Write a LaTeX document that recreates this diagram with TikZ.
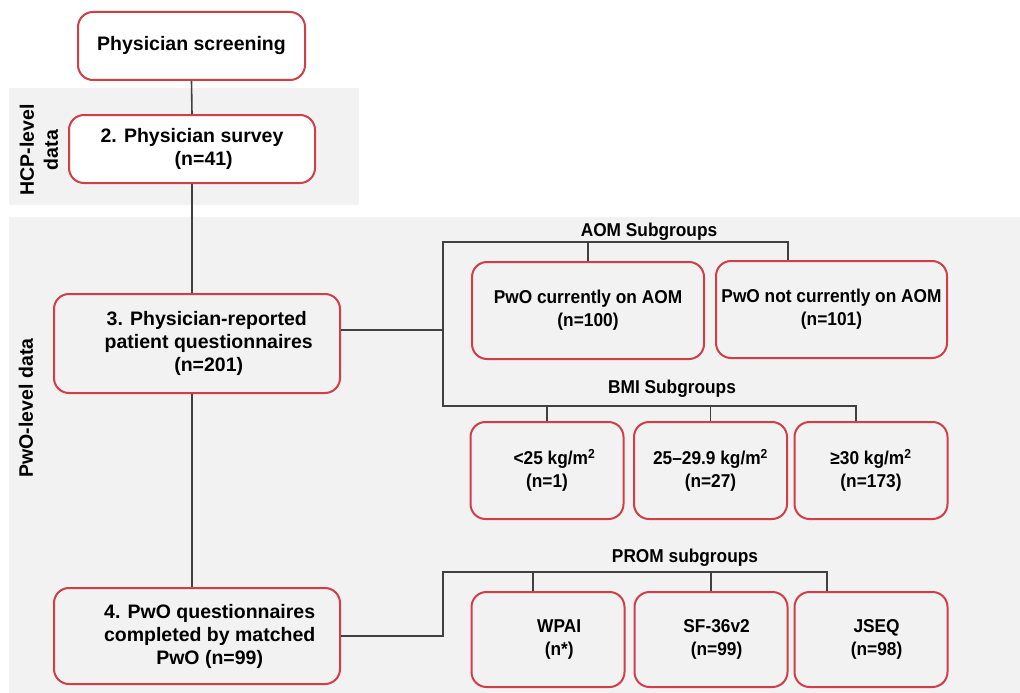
\documentclass[tikz,border=0pt]{standalone}
\usepackage{fontspec}
\setmainfont{Liberation Sans}
\newfontfamily\condsans[FakeStretch=0.93]{Liberation Sans}
\usepackage{tikz}
\usetikzlibrary{positioning}
\usetikzlibrary{calc}
\definecolor{BoxRed}{RGB}{208,62,72}
\definecolor{PanelGray}{RGB}{242,242,242}
\definecolor{LineGray}{RGB}{64,64,64}
\tikzset{
  stepbox/.style={draw=BoxRed, line width=2pt, rounded corners=15pt, fill=PanelGray,
    align=center, inner sep=0pt, font=\fontsize{19.5}{23}\selectfont\bfseries},
  subbox/.style={stepbox, font=\condsans\fontsize{18.6}{23}\selectfont\bfseries},
  link/.style={draw=LineGray, line width=1.6pt},
  grouplabel/.style={font=\condsans\fontsize{18.6}{23}\selectfont\bfseries, inner sep=0pt},
  sidelabel/.style={font=\fontsize{19.5}{24}\selectfont\bfseries, inner sep=0pt, rotate=90, align=center},
}

\begin{document}
\begin{tikzpicture}[x=1pt, y=-1pt]

\useasboundingbox (0,0) rectangle (1020,693);

% panels
\fill[PanelGray] (9,88) rectangle (359,205);
\fill[PanelGray] (9,217) rectangle (1020,693);

\node[sidelabel] (hcplab) at (39,150) {HCP-level\\data};
\node[sidelabel] (pwolab) at (26,408) {PwO-level data};

% main column
\node[stepbox, fill=white, minimum width=227pt, minimum height=68pt] (screen) at (191.5,46) {Physician screening};
\node[stepbox, fill=white, minimum width=246pt, minimum height=68pt] (survey) at (192,149) {2. Physician survey\\\hspace*{1.2em}(n=41)};
\node[stepbox, minimum width=286pt, minimum height=99pt] (report) at (197,343.5) {\hspace*{1em}3. Physician-reported\\\hspace*{1.2em}patient questionnaires\\\hspace*{1.2em}(n=201)};
\node[stepbox, minimum width=286pt, minimum height=96pt] (pwoq) at (197,636) {\hspace*{1.3em}4. PwO questionnaires\\\hspace*{1.3em}completed by matched\\\hspace*{1.3em}PwO (n=99)};

% AOM subgroups
\def \wA {232pt}
\def \hB {97pt}
\node[subbox, minimum width=\wA, minimum height=\hB] (aomA) at (588,310.5) {PwO currently on AOM\\(n=100)};
\node[subbox, minimum width=231pt, minimum height=\hB] (aomB) at (831.5,309.5) {PwO not currently on AOM\\(n=101)};
\node[grouplabel] (aomlab) at (649,232) {AOM Subgroups};

% BMI subgroups
\def \wS {153pt}
\node[subbox, minimum width=\wS, minimum height=\hB] (bmiA) at (547,470.5) {\hspace*{0.8em}<25 kg/m\textsuperscript{2}\\(n=1)};
\node[subbox, minimum width=\wS, minimum height=\hB] (bmiB) at (710.5,470.5) {25–29.9 kg/m\textsuperscript{2}\\(n=27)};
\node[subbox, minimum width=\wS, minimum height=\hB] (bmiC) at (871,470.5) {≥30 kg/m\textsuperscript{2}\\(n=173)};
\node[grouplabel] (bmilab) at (672,389) {BMI Subgroups};

% PROM subgroups
\node[subbox, minimum width=\wS, minimum height=95pt] (promA) at (548,639.5) {\hspace*{1.2em}WPAI\\\hspace*{1.2em}(n*)};
\node[subbox, minimum width=\wS, minimum height=95pt] (promB) at (711,639.5) {\hspace*{0.6em}SF-36v2\\\hspace*{0.6em}(n=99)};
\node[subbox, minimum width=\wS, minimum height=95pt] (promC) at (871,639.5) {\hspace*{0.6em}JSEQ\\\hspace*{0.6em}(n=98)};
\node[grouplabel] (promlab) at (685,558) {PROM subgroups};

% bracket corners
\coordinate (aomL) at (443,242);
\coordinate (bmiL) at (443,406);
\coordinate (promL) at (443,572);
\coordinate (aomT) at (788,242);
\coordinate (bmiT) at (856,406);
\coordinate (promT) at (827,572);
\coordinate (promTA) at (533,572);

% main line
\draw[link] (screen.south) -- (survey.north);
\draw[link] (survey.south) -- (survey.south |- report.north);
\draw[link] (survey.south |- report.south) -- (survey.south |- pwoq.north);

% report to AOM and BMI
\draw[link] ([yshift=13.5pt]report.east) -- ([yshift=13.5pt]report.east -| aomL);
\draw[link] (aomT |- aomB.north) -- (aomT) -- (aomL) -- (bmiL) -- (bmiT) -- (bmiT |- bmiC.north);
\draw[link] (aomA.north |- aomL) -- (aomA.north);
\draw[link] (bmiA.north |- bmiL) -- (bmiA.north);
\draw[link] (bmiB.north |- bmiL) -- (bmiB.north);

% pwo questionnaires to PROM
\draw[link] (pwoq.east) -- (pwoq.east -| promL) -- (promL) -- (promT) -- (promT |- promC.north);
\draw[link] (promTA) -- (promTA |- promA.north);
\draw[link] (promB.north |- promL) -- (promB.north);

\end{tikzpicture}
\end{document}
